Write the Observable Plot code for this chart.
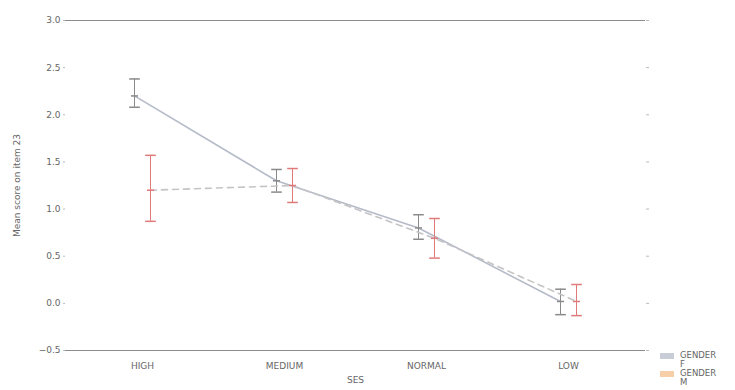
<!DOCTYPE html>
<html>
<head>
<meta charset="utf-8">
<script src="https://cdn.jsdelivr.net/npm/d3@7"></script>
<script src="https://cdn.jsdelivr.net/npm/@observablehq/plot@0.6"></script>
<style>
  body { margin: 0; background: #fff; font-family: "DejaVu Sans", sans-serif; }
  #wrap { position: relative; width: 735px; height: 390px; overflow: hidden; }
  #legend { position: absolute; left: 660px; top: 351px; font-size: 8.5px; color: #666; line-height: 9px; }
  .item { display: flex; align-items: flex-start; margin: 0; }
  .sw { width: 14px; height: 6px; margin-right: 6px; margin-top: 2px; }
</style>
</head>
<body>
<div id="wrap"><div id="legend"></div></div>
<script>
const categories = ["HIGH", "MEDIUM", "NORMAL", "LOW"];
const genders = ["F", "M"];
const meanF = [2.2, 1.3, 0.8, 0.02];
const lowF  = [2.08, 1.18, 0.68, -0.12];
const highF = [2.38, 1.42, 0.94, 0.15];
const meanM = [1.2, 1.25, 0.69, 0.02];
const lowM  = [0.87, 1.07, 0.48, -0.13];
const highM = [1.57, 1.43, 0.9, 0.2];
const yTicks = [-0.5, 0, 0.5, 1, 1.5, 2, 2.5, 3];

const rows = [];
categories.forEach((c, i) => {
  rows.push({ses: c, gender: "F", mean: meanF[i], lo: lowF[i], hi: highF[i]});
  rows.push({ses: c, gender: "M", mean: meanM[i], lo: lowM[i], hi: highM[i]});
});
const F = rows.filter(d => d.gender === "F");
const M = rows.filter(d => d.gender === "M");

const lineCol = {F: "#b4bac8", M: "#c4c4c4"};
const barCol = {F: "#8a8a8a", M: "#e07a7a"};
const swatch = {F: "#c9cdd8", M: "#f6cfa8"};
const off = {F: -8, M: 8};

const capSymbol = {
  draw(ctx, size) {
    const w = Math.sqrt(size);
    ctx.moveTo(-w, 0); ctx.lineTo(w, 0);
  }
};

function series(data, g) {
  return [
    Plot.lineY(data, {x: "ses", y: "mean", dx: off[g], stroke: lineCol[g], strokeWidth: 1.6,
      strokeDasharray: g === "M" ? "6,5" : null}),
    Plot.ruleX(data, {x: "ses", y1: "lo", y2: "hi", dx: off[g], stroke: barCol[g], strokeWidth: 1}),
    Plot.dot(data, {x: "ses", y: "lo", dx: off[g], symbol: capSymbol, r: 3, stroke: barCol[g], fill: "none"}),
    Plot.dot(data, {x: "ses", y: "hi", dx: off[g], symbol: capSymbol, r: 3, stroke: barCol[g], fill: "none"}),
    Plot.dot(data, {x: "ses", y: "mean", dx: off[g], symbol: capSymbol, r: 2, stroke: barCol[g], fill: "none"})
  ];
}

const chart = Plot.plot({
  width: 735,
  height: 390,
  marginTop: 20,
  marginBottom: 40,
  marginLeft: 65,
  marginRight: 90,
  style: {fontFamily: "DejaVu Sans, sans-serif", fontSize: "9px", color: "#666", background: "#fff"},
  x: {type: "point", domain: categories, padding: 0.54},
  y: {domain: [-0.5, 3]},
  marks: [
    Plot.axisY({ticks: yTicks, tickFormat: d3.format(".1f"), tickSize: 2, tickPadding: 3, stroke: "#bbb",
      label: "Mean score on item 23", labelAnchor: "center", labelArrow: "none", labelOffset: 52}),
    Plot.axisY({anchor: "right", ticks: yTicks, tickFormat: () => "", tickSize: 3, stroke: "#bbb", label: null}),
    Plot.axisX({tickSize: 0, tickPadding: 12, label: "SES", labelAnchor: "center", labelArrow: "none", labelOffset: 32}),
    Plot.ruleY([3], {stroke: "#8c8c8c", strokeWidth: 1.2}),
    Plot.ruleY([-0.5], {stroke: "#8c8c8c", strokeWidth: 1.2}),
    ...series(F, "F"),
    ...series(M, "M")
  ]
});
document.getElementById("wrap").prepend(chart);

const legend = document.getElementById("legend");
genders.forEach(g => {
  const it = document.createElement("div");
  it.className = "item";
  const sw = document.createElement("div");
  sw.className = "sw";
  sw.style.background = swatch[g];
  const tx = document.createElement("div");
  tx.innerHTML = "GENDER<br>" + g;
  it.appendChild(sw); it.appendChild(tx);
  legend.appendChild(it);
});
</script>
</body>
</html>
